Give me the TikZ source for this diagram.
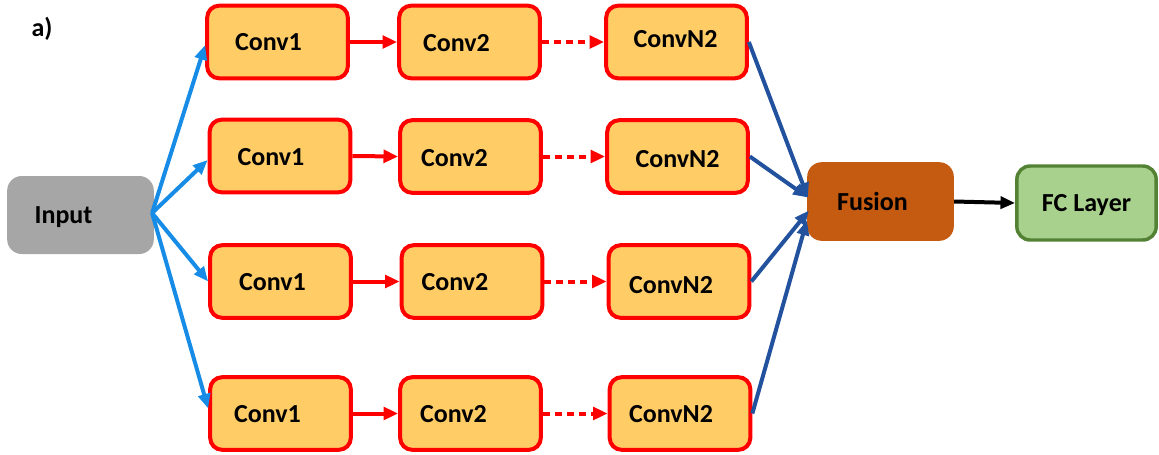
\documentclass[tikz,border=0pt]{standalone}
\usepackage{fontspec}
\setmainfont{Carlito}
\usetikzlibrary{arrows.meta,calc}

\definecolor{convfill}{HTML}{FFCC66}
\definecolor{convline}{HTML}{FF0000}
\definecolor{inputgray}{HTML}{A6A6A6}
\definecolor{fusionbrown}{HTML}{C55A11}
\definecolor{fcfill}{HTML}{A9D18E}
\definecolor{fcline}{HTML}{548235}
\definecolor{splitblue}{HTML}{178CE6}
\definecolor{mergeblue}{HTML}{22519E}

\tikzset{
  lbl/.style={font=\fontsize{19.5}{22}\selectfont\bfseries, inner sep=0pt, text depth=0pt},
  convbox/.style={draw=convline, fill=convfill, line width=3pt, rounded corners=9pt,
    minimum width=105.5pt, minimum height=54.5pt, inner sep=0pt},
  inputbox/.style={fill=inputgray, rounded corners=11pt, minimum width=110pt,
    minimum height=58.5pt, inner sep=0pt},
  fusionbox/.style={fill=fusionbrown, rounded corners=11pt, minimum width=110pt,
    minimum height=59pt, inner sep=0pt},
  fcbox/.style={draw=fcline, fill=fcfill, line width=2.6pt, rounded corners=10pt,
    minimum width=104.5pt, minimum height=55.5pt, inner sep=0pt},
  split/.style={draw=splitblue, line width=3pt, -{Triangle[length=11pt,width=9pt]}},
  chain/.style={draw=convline, line width=3pt, -{Triangle[length=11pt,width=9.5pt]}},
  skipchain/.style={chain, dash pattern=on 5pt off 4pt},
  merge/.style={draw=mergeblue, line width=3pt, -{Triangle[length=11pt,width=9pt]}},
  toout/.style={draw=black, line width=3pt, -{Triangle[length=11pt,width=9pt]}},
}

\begin{document}
\begin{tikzpicture}[x=0.75pt, y=-0.75pt]
\useasboundingbox (0,0) rectangle (1159,454);

\node[lbl] (tag) at (42,27) {a)};

% input and output side
\node[inputbox] (inp) at (80.5,215) {};
\node[lbl] (inpt) at ($(inp)+(-17,0)$) {Input};
\node[fusionbox] (fus) at (880.5,201.5) {};
\node[lbl] (fust) at ($(fus)+(-8,0)$) {Fusion};
\node[fcbox] (fc) at (1086.5,203) {};
\node[lbl] (fct) at (fc) {FC Layer};

% branch 1
\node[convbox] (a1) at (277.5,42) {};
\node[convbox] (a2) at (469.5,42) {};
\node[convbox] (an) at (676.5,42) {};
\node[lbl] (a1t) at ($(a1)+(-9,0)$) {Conv1};
\node[lbl] (a2t) at ($(a2)+(-13,1)$) {Conv2};
\node[lbl] (ant) at ($(an)+(-1,-3)$) {ConvN2};

% branch 2
\node[convbox] (b1) at (280,156) {};
\node[convbox] (b2) at (470.5,156.5) {};
\node[convbox] (bn) at (677.5,156.5) {};
\node[lbl] (b1t) at ($(b1)+(-9,1)$) {Conv1};
\node[lbl] (b2t) at ($(b2)+(-16,1)$) {Conv2};
\node[lbl] (bnt) at ($(bn)+(0,2)$) {ConvN2};

% branch 3
\node[convbox] (c1) at (280.5,281.5) {};
\node[convbox] (c2) at (472,281.5) {};
\node[convbox] (cn) at (679,281.5) {};
\node[lbl] (c1t) at ($(c1)+(-8,0)$) {Conv1};
\node[lbl] (c2t) at ($(c2)+(-17,0)$) {Conv2};
\node[lbl] (cnt) at ($(cn)+(-8,3)$) {ConvN2};

% branch 4
\node[convbox] (d1) at (280.5,413.5) {};
\node[convbox] (d2) at (470.5,413.5) {};
\node[convbox] (dn) at (680,413.5) {};
\node[lbl] (d1t) at ($(d1)+(-13,0)$) {Conv1};
\node[lbl] (d2t) at ($(d2)+(-17,0)$) {Conv2};
\node[lbl] (dnt) at ($(dn)+(-9,0)$) {ConvN2};

% input fans out to every branch
\coordinate (fan) at ($(inp.east)+(-2,-2)$);
\draw[split] (fan) -- ($(a1.west)+(0,3)$);
\draw[split] (fan) -- ($(b1.west)+(0,4)$);
\draw[split] (fan) -- (c1.west);
\draw[split] (fan) -- ($(d1.west)+(0,-5)$);

% convolution chains
\foreach \r in {a,b,c,d} {
  \draw[chain] (\r1.east) -- (\r2.west);
  \draw[skipchain] (\r2.east) -- (\r n.west);
}

% branches merge into fusion
\draw[merge] (an.east) -- ($(fus.west)+(1,-4)$);
\draw[merge] (bn.east) -- ($(fus.west)+(1,-4)$);
\draw[merge] (cn.east) -- ($(fus.west)+(2,9)$);
\draw[merge] (dn.east) -- ($(fus.west)+(0,19)$);

\draw[toout] (fus.east) -- (fc.west);
\end{tikzpicture}
\end{document}
